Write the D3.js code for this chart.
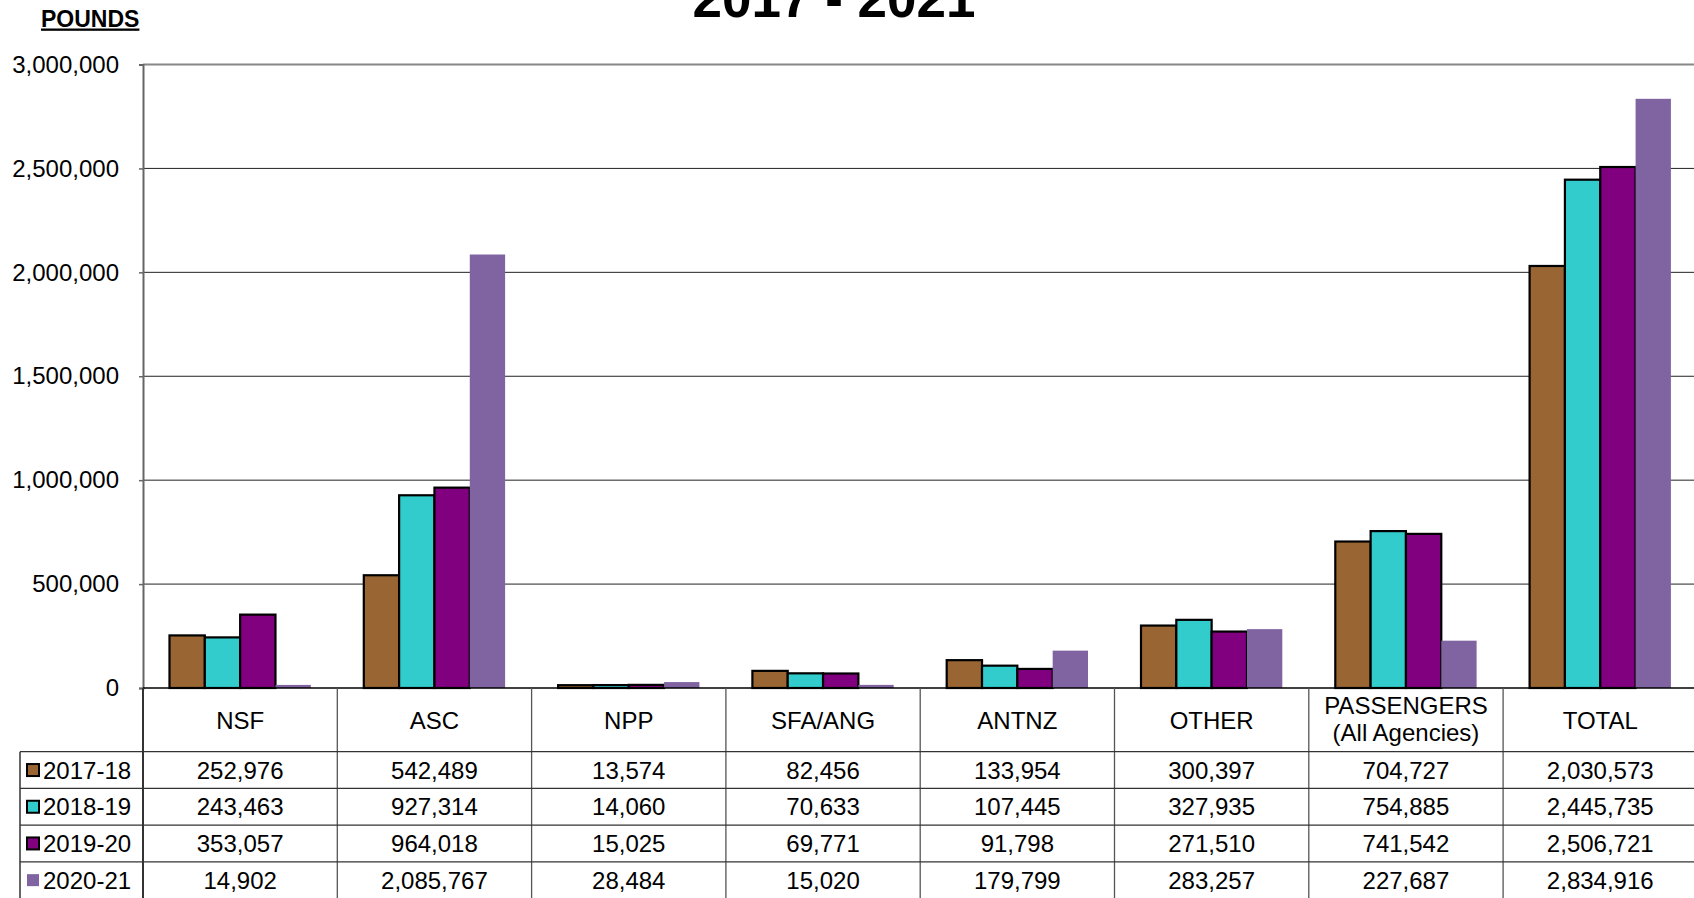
<!DOCTYPE html>
<html>
<head>
<meta charset="utf-8">
<script src="https://cdn.jsdelivr.net/npm/d3@7"></script>
<style>
  body { margin: 0; background: white; overflow: hidden; }
  text { font-family: "Liberation Sans", Arial, sans-serif; fill: black; }
</style>
</head>
<body>
<div class="chart"></div>
<script>
// data
var categories = ["NSF", "ASC", "NPP", "SFA/ANG", "ANTNZ", "OTHER", "PASSENGERS", "TOTAL"];
var categoryLines = [["NSF"], ["ASC"], ["NPP"], ["SFA/ANG"], ["ANTNZ"], ["OTHER"], ["PASSENGERS", "(All Agencies)"], ["TOTAL"]];
var years = ["2017-18", "2018-19", "2019-20", "2020-21"];
var v2017 = [252976, 542489, 13574, 82456, 133954, 300397, 704727, 2030573];
var v2018 = [243463, 927314, 14060, 70633, 107445, 327935, 754885, 2445735];
var v2019 = [353057, 964018, 15025, 69771, 91798, 271510, 741542, 2506721];
var v2020 = [14902, 2085767, 28484, 15020, 179799, 283257, 227687, 2834916];
var yTicks = [0, 500000, 1000000, 1500000, 2000000, 2500000, 3000000];
var colors = ["#996633", "#33cccc", "#800080", "#8064a2"];
var outlined = [true, true, true, false];

var series = [v2017, v2018, v2019, v2020];

var width = 1694, height = 898;
var left = 143, colW = 194.3;
var top0 = 64.5, zeroY = 688;
var rowH = 36.7, headerBottom = 751.7;
var legendLeft = 20;
var font = '"Liberation Sans", Arial, sans-serif';

var svg = d3.select(".chart")
	.append("svg")
	.attr("width", width)
	.attr("height", height);

var x = d3.scaleBand()
	.domain(categories)
	.range([left, left + colW * categories.length]);

var xSub = d3.scaleBand()
	.domain(years)
	.range([0, x.bandwidth()])
	.paddingOuter(0.75);

var y = d3.scaleLinear()
	.domain([0, 3000000])
	.range([zeroY, top0]);

// title (top part cut off in the original)
svg.append("text")
	.attr("x", 834)
	.attr("y", 17)
	.attr("text-anchor", "middle")
	.style("font-size", "53px")
	.style("font-weight", "bold")
	.text("2017 - 2021");

// POUNDS label
svg.append("text")
	.attr("x", 41)
	.attr("y", 26.5)
	.style("font-size", "23px")
	.style("font-weight", "bold")
	.style("text-decoration", "underline")
	.text("POUNDS");

// gridlines
svg.append("g")
	.selectAll("line")
	.data(yTicks.filter(function(d) { return d > 0; }))
	.enter()
	.append("line")
	.attr("x1", left)
	.attr("x2", width)
	.attr("y1", function(d) { return y(d); })
	.attr("y2", function(d) { return y(d); })
	.attr("stroke", function(d) { return d == 3000000 ? "#888" : "#222"; })
	.attr("stroke-width", function(d) { return d == 3000000 ? 2 : 1; });

// y axis
var yAxis = svg.append("g")
	.attr("transform", "translate(" + left + ",0)")
	.call(d3.axisLeft(y).tickValues(yTicks).tickSize(4).tickPadding(20).tickFormat(d3.format(",")));

yAxis.select(".domain").attr("stroke", "#666").attr("stroke-width", 2);
yAxis.selectAll(".tick line").attr("stroke", "#666").attr("stroke-width", 1.5);
yAxis.selectAll(".tick text")
	.style("font-family", font)
	.style("font-size", "24px")
	.attr("fill", "black");

// bars
years.forEach(function(yr, s) {
	svg.append("g")
		.selectAll("rect")
		.data(series[s])
		.enter()
		.append("rect")
		.attr("x", function(d, i) { return x(categories[i]) + xSub(yr); })
		.attr("y", function(d) { return y(d); })
		.attr("width", xSub.bandwidth())
		.attr("height", function(d) { return zeroY - y(d); })
		.attr("fill", colors[s])
		.attr("stroke", outlined[s] ? "black" : "none")
		.attr("stroke-width", 2.2);
});

// zero line
svg.append("line")
	.attr("x1", left)
	.attr("x2", width)
	.attr("y1", zeroY)
	.attr("y2", zeroY)
	.attr("stroke", "black")
	.attr("stroke-width", 1.5);

// data table
var table = svg.append("g");

// column separators
table.selectAll(".colsep")
	.data(categories.slice(1))
	.enter()
	.append("line")
	.attr("x1", function(d) { return x(d); })
	.attr("x2", function(d) { return x(d); })
	.attr("y1", zeroY)
	.attr("y2", height)
	.attr("stroke", "#555")
	.attr("stroke-width", 1.3);

table.append("line")
	.attr("x1", left).attr("x2", left)
	.attr("y1", zeroY).attr("y2", height)
	.attr("stroke", "#333").attr("stroke-width", 2);

table.append("line")
	.attr("x1", legendLeft).attr("x2", legendLeft)
	.attr("y1", headerBottom).attr("y2", height)
	.attr("stroke", "#333").attr("stroke-width", 1.5);

// row lines
table.selectAll(".rowline")
	.data(d3.range(years.length + 1))
	.enter()
	.append("line")
	.attr("x1", legendLeft)
	.attr("x2", width)
	.attr("y1", function(d) { return headerBottom + d * rowH; })
	.attr("y2", function(d) { return headerBottom + d * rowH; })
	.attr("stroke", function(d) { return d == 4 ? "#bbb" : "#333"; })
	.attr("stroke-width", 1.2);

// category headers
categoryLines.forEach(function(lines, i) {
	var cx = x(categories[i]) + x.bandwidth() / 2;
	var t = table.append("text")
		.attr("text-anchor", "middle")
		.style("font-size", "24px");
	if (lines.length == 1) {
		t.append("tspan").attr("x", cx).attr("y", 728.5).text(lines[0]);
	} else {
		t.append("tspan").attr("x", cx).attr("y", 713.5).text(lines[0]);
		t.append("tspan").attr("x", cx).attr("y", 741).text(lines[1]);
	}
});

// values and legend keys
years.forEach(function(yr, s) {
	var rowTop = headerBottom + s * rowH;

	table.append("rect")
		.attr("x", 27)
		.attr("y", rowTop + rowH / 2 - 6)
		.attr("width", 12)
		.attr("height", 12)
		.attr("fill", colors[s])
		.attr("stroke", outlined[s] ? "black" : "none")
		.attr("stroke-width", 2);

	table.append("text")
		.attr("x", 43)
		.attr("y", rowTop + rowH / 2 + 8.6)
		.style("font-size", "24px")
		.text(yr);

	table.append("g")
		.selectAll("text")
		.data(series[s])
		.enter()
		.append("text")
		.attr("x", function(d, i) { return x(categories[i]) + x.bandwidth() / 2; })
		.attr("y", rowTop + rowH / 2 + 8.6)
		.attr("text-anchor", "middle")
		.style("font-size", "24px")
		.text(function(d) { return d3.format(",")(d); });
});
</script>
</body>
</html>
